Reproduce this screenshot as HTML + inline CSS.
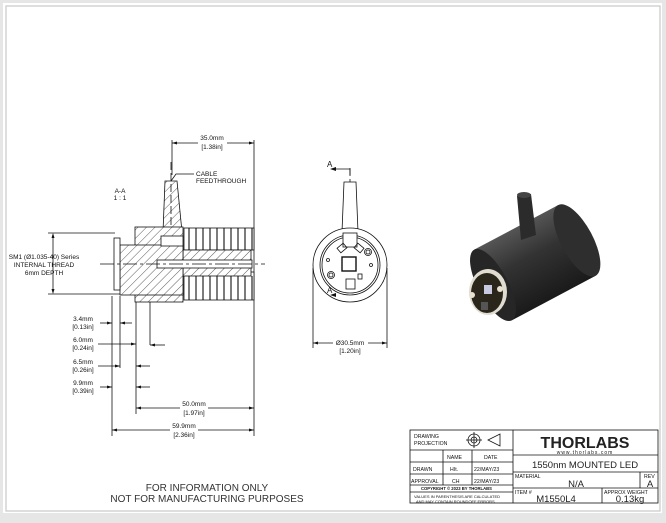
<!DOCTYPE html>
<html><head><meta charset="utf-8"><style>
html,body{margin:0;padding:0;background:#e6e6e6;}
svg{display:block;font-family:"Liberation Sans",sans-serif;}
</style></head><body>
<svg width="666" height="523" viewBox="0 0 666 523" xmlns="http://www.w3.org/2000/svg">
<defs>
<pattern id="h" width="6" height="6" patternUnits="userSpaceOnUse" patternTransform="rotate(45)"><rect width="6" height="6" fill="#fff"/><line x1="0" y1="0" x2="0" y2="6" stroke="#333" stroke-width="0.8"/></pattern>
<linearGradient id="g1" x1="0" y1="0" x2="0" y2="1"><stop offset="0" stop-color="#555"/><stop offset="0.4" stop-color="#333"/><stop offset="1" stop-color="#1a1a1a"/></linearGradient>
</defs>
<rect x="0" y="0" width="666" height="523" fill="#e6e6e6"/>
<rect x="3" y="3" width="659" height="510" fill="#fff"/>
<rect x="6" y="6" width="654" height="505" fill="none" stroke="#c8c8c8" stroke-width="1.2"/>
<g stroke="#111" stroke-width="0.8" fill="none">
<line x1="172" y1="140" x2="172" y2="175"/>
<line x1="254" y1="140" x2="254" y2="436"/>
<line x1="172" y1="143" x2="198" y2="143"/><line x1="227" y1="143" x2="254" y2="143"/>
<polygon points="165,181 177,181 182,232 163,232" fill="url(#h)"/>
<line x1="171" y1="162" x2="171" y2="232" stroke-dasharray="8,3"/>
<polyline points="171,181 176,174 194,174"/>
<rect x="184" y="228" width="70" height="22" fill="#fff"/>
<rect x="184" y="272" width="70" height="28" fill="#fff"/>
<g stroke-width="1.1">
<line x1="189" y1="228" x2="189" y2="250"/><line x1="196" y1="228" x2="196" y2="250"/><line x1="203" y1="228" x2="203" y2="250"/><line x1="210" y1="228" x2="210" y2="250"/><line x1="217" y1="228" x2="217" y2="250"/><line x1="224" y1="228" x2="224" y2="250"/><line x1="231" y1="228" x2="231" y2="250"/><line x1="238" y1="228" x2="238" y2="250"/><line x1="245" y1="228" x2="245" y2="250"/><line x1="252" y1="228" x2="252" y2="250"/>
<line x1="189" y1="276" x2="189" y2="300"/><line x1="196" y1="276" x2="196" y2="300"/><line x1="203" y1="276" x2="203" y2="300"/><line x1="210" y1="276" x2="210" y2="300"/><line x1="217" y1="276" x2="217" y2="300"/><line x1="224" y1="276" x2="224" y2="300"/><line x1="231" y1="276" x2="231" y2="300"/><line x1="238" y1="276" x2="238" y2="300"/><line x1="245" y1="276" x2="245" y2="300"/><line x1="252" y1="276" x2="252" y2="300"/>
</g>
<rect x="183" y="250" width="68" height="26" fill="url(#h)"/>
<rect x="135" y="227" width="48" height="75" fill="url(#h)"/>
<rect x="120" y="245" width="63" height="50" fill="url(#h)"/>
<rect x="161" y="236" width="22" height="10" fill="#fff"/>
<rect x="114" y="238" width="6" height="52" fill="#fff"/>
<rect x="157" y="260" width="95" height="8" fill="#fff"/>
<line x1="100" y1="264" x2="265" y2="264" stroke-dasharray="14,3,3,3"/>
<line x1="48" y1="233" x2="115" y2="233"/><line x1="48" y1="294" x2="120" y2="294"/>
<line x1="53" y1="236" x2="53" y2="291"/>
<line x1="112" y1="296" x2="112" y2="436"/><line x1="120" y1="296" x2="120" y2="368"/>
<line x1="136" y1="302" x2="136" y2="414"/><line x1="150" y1="302" x2="150" y2="345"/>
<line x1="100" y1="323" x2="112" y2="323"/><line x1="120" y1="323" x2="132" y2="323"/>
<line x1="98" y1="344" x2="136" y2="344"/><line x1="150" y1="345" x2="165" y2="345"/>
<line x1="98" y1="366" x2="120" y2="366"/><line x1="136" y1="366" x2="150" y2="366"/>
<line x1="100" y1="387" x2="112" y2="387"/><line x1="136" y1="387" x2="150" y2="387"/>
<line x1="136" y1="408" x2="180" y2="408"/><line x1="208" y1="408" x2="254" y2="408"/>
<line x1="112" y1="430" x2="170" y2="430"/><line x1="198" y1="430" x2="254" y2="430"/>
<line x1="350" y1="168" x2="350" y2="300" stroke-dasharray="8,3"/>
<polyline points="335,169 350,169 350,175"/><polyline points="335,295 350,295 350,290"/>
<polygon points="344,182 356,182 358,232 342,232" fill="#fff"/>
<circle cx="350" cy="265" r="37" fill="#fff"/>
<circle cx="350" cy="265" r="30"/><circle cx="350" cy="265" r="28"/>
<rect x="343" y="233" width="14" height="14" fill="#fff"/>
<rect x="338" y="245" width="8" height="6" transform="rotate(-40 342 248)"/>
<rect x="355" y="245" width="8" height="6" transform="rotate(40 359 248)"/>
<rect x="342" y="257" width="14" height="14" stroke-width="1.4"/>
<circle cx="368" cy="252" r="3.5"/><circle cx="368" cy="252" r="2"/>
<circle cx="331" cy="275" r="3.5"/><circle cx="331" cy="275" r="2"/>
<circle cx="328" cy="260" r="1.5"/><circle cx="371" cy="265" r="1.5"/>
<rect x="358" y="274" width="4" height="5"/>
<rect x="346" y="279" width="9" height="10"/>
<line x1="313" y1="268" x2="313" y2="348"/><line x1="387" y1="268" x2="387" y2="348"/>
<line x1="313" y1="343" x2="333" y2="343"/><line x1="368" y1="343" x2="387" y2="343"/>
<rect x="410" y="430" width="248" height="73"/>
<line x1="513" y1="430" x2="513" y2="503"/>
<line x1="410" y1="450" x2="513" y2="450"/>
<line x1="410" y1="462" x2="513" y2="462"/>
<line x1="410" y1="474" x2="513" y2="474"/>
<line x1="410" y1="485" x2="513" y2="485"/>
<line x1="410" y1="492" x2="513" y2="492"/>
<line x1="443" y1="450" x2="443" y2="485"/>
<line x1="472" y1="450" x2="472" y2="485"/>
<line x1="513" y1="455" x2="658" y2="455"/>
<line x1="513" y1="472" x2="658" y2="472"/>
<line x1="513" y1="488" x2="658" y2="488"/>
<line x1="640" y1="472" x2="640" y2="488"/>
<line x1="602" y1="488" x2="602" y2="503"/>
<circle cx="474" cy="440" r="6"/><circle cx="474" cy="440" r="3"/>
<line x1="466" y1="440" x2="482" y2="440"/><line x1="474" y1="432" x2="474" y2="448"/>
<polygon points="488,440 500,434 500,446"/>
</g>
<g fill="#111">
<polygon points="172,143 177,141.5 177,144.5"/><polygon points="254,143 249,141.5 249,144.5"/>
<polygon points="53,233 51.5,238 54.5,238"/><polygon points="53,294 51.5,289 54.5,289"/>
<polygon points="112,323 107,321.5 107,324.5"/><polygon points="120,323 125,321.5 125,324.5"/>
<polygon points="136,344 131,342.5 131,345.5"/><polygon points="150,345 155,343.5 155,346.5"/>
<polygon points="120,366 115,364.5 115,367.5"/><polygon points="136,366 141,364.5 141,367.5"/>
<polygon points="112,387 107,385.5 107,388.5"/><polygon points="136,387 141,385.5 141,388.5"/>
<polygon points="136,408 141,406.5 141,409.5"/><polygon points="254,408 249,406.5 249,409.5"/>
<polygon points="112,430 117,428.5 117,431.5"/><polygon points="254,430 249,428.5 249,431.5"/>
<polygon points="313,343 318,341.5 318,344.5"/><polygon points="387,343 382,341.5 382,344.5"/>
<polygon points="330,169 336,167 336,171"/><polygon points="330,295 336,293 336,297"/>
</g>
<g transform="translate(493,285) rotate(-28)">
<rect x="0" y="-40" width="95" height="80" fill="url(#g1)"/>
<ellipse cx="95" cy="0" rx="16" ry="40" fill="#2e2e2e"/>
<ellipse cx="0" cy="0" rx="15" ry="40" fill="#262626"/>
</g>
<polygon points="517,196 531,194 536,235 521,240" fill="#2b2b2b"/>
<ellipse cx="524" cy="195" rx="7" ry="3" fill="#444"/>
<ellipse cx="488" cy="292" rx="19" ry="23" fill="#e0dccf"/>
<ellipse cx="487" cy="293" rx="16" ry="20" fill="#2a261c"/>
<rect x="484" y="285" width="8" height="9" fill="#c8c8e0"/>
<circle cx="472" cy="295" r="3" fill="#e8e0d0"/><circle cx="500" cy="289" r="3" fill="#e8e0d0"/>
<rect x="481" y="302" width="7" height="8" fill="#555"/>
<g fill="#111" font-size="6.5" text-anchor="middle">
<text x="212" y="140">35.0mm</text><text x="212" y="149">[1.38in]</text>
<text x="120" y="193">A-A</text><text x="120" y="200">1 : 1</text>
<text x="44" y="259">SM1 (Ø1.035-40) Series</text>
<text x="44" y="267">INTERNAL THREAD</text>
<text x="44" y="275">6mm DEPTH</text>
<text x="83" y="321">3.4mm</text><text x="83" y="329">[0.13in]</text>
<text x="83" y="342">6.0mm</text><text x="83" y="350">[0.24in]</text>
<text x="83" y="364">6.5mm</text><text x="83" y="372">[0.26in]</text>
<text x="83" y="385">9.9mm</text><text x="83" y="393">[0.39in]</text>
<text x="194" y="406">50.0mm</text><text x="194" y="415">[1.97in]</text>
<text x="184" y="428">59.9mm</text><text x="184" y="437">[2.36in]</text>
<text x="350" y="345">Ø30.5mm</text><text x="350" y="353">[1.20in]</text>
</g>
<g fill="#111" font-size="6.5">
<text x="196" y="176">CABLE</text><text x="196" y="183">FEEDTHROUGH</text>
<text x="327" y="167" font-size="8">A</text><text x="327" y="293" font-size="8">A</text>
</g>
<g fill="#333" font-size="10" text-anchor="middle">
<text x="207" y="491">FOR INFORMATION ONLY</text>
<text x="207" y="502">NOT FOR MANUFACTURING PURPOSES</text>
</g>
<g fill="#111" font-size="5.2">
<text x="414" y="438">DRAWING</text><text x="414" y="445">PROJECTION</text>
<text x="447" y="459">NAME</text><text x="484" y="459">DATE</text>
<text x="413" y="471">DRAWN</text><text x="450" y="471">HIt.</text><text x="474" y="471">22/MAY/23</text>
<text x="411" y="483">APPROVAL</text><text x="452" y="483">CH</text><text x="474" y="483">22/MAY/23</text>
<text x="421" y="490" font-size="4.2" font-weight="bold">COPYRIGHT © 2023 BY THORLABS</text>
<text x="414" y="498" font-size="4">VALUES IN PARENTHESIS ARE CALCULATED</text>
<text x="416" y="503" font-size="4">AND MAY CONTAIN ROUNDOFF ERRORS</text>
<text x="515" y="478">MATERIAL</text><text x="644" y="478">REV</text>
<text x="515" y="494">ITEM #</text><text x="604" y="494">APPROX WEIGHT</text>
</g>
<text x="585" y="448" font-size="16" font-weight="bold" text-anchor="middle" fill="#222">THORLABS</text>
<text x="585" y="454" font-size="5" text-anchor="middle" fill="#222" letter-spacing="1">www.thorlabs.com</text>
<g fill="#222" font-size="9.5" text-anchor="middle">
<text x="585" y="468">1550nm MOUNTED LED</text>
<text x="576" y="487">N/A</text><text x="650" y="487">A</text>
<text x="556" y="502">M1550L4</text><text x="630" y="502">0.13kg</text>
</g>
</svg>
</body></html>
